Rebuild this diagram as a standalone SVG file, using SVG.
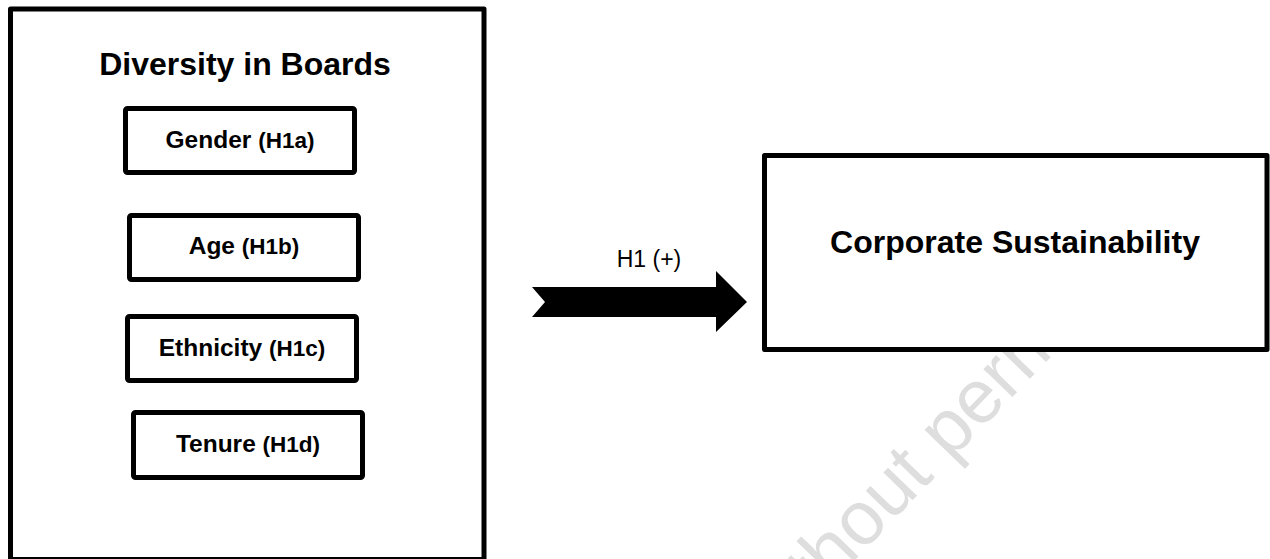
<svg xmlns="http://www.w3.org/2000/svg" width="1270" height="559" viewBox="0 0 1270 559">
<style>
  .box { fill: #ffffff; stroke: #000000; stroke-width: 5; stroke-linejoin: round; }
  .title { font-family: "Liberation Sans", Arial, sans-serif; font-weight: bold; font-size: 32px; fill: #000; text-anchor: middle; }
  .item { font-family: "Liberation Sans", Arial, sans-serif; font-weight: bold; font-size: 24.5px; fill: #000; text-anchor: middle; }
  .small { font-size: 22.5px; }
  .lbl { font-family: "Liberation Sans", Arial, sans-serif; font-size: 23px; fill: #000; text-anchor: middle; }
  .wm { font-family: "Liberation Sans", Arial, sans-serif; font-size: 76px; fill: #dedede; }
</style>
<rect x="0" y="0" width="1270" height="559" fill="#ffffff"/>
<g id="watermark">
  <text class="wm" transform="translate(768,650) rotate(-46)">without permission</text>
</g>
<g id="diversity-in-boards">
  <rect class="box" x="10.5" y="9" width="473.5" height="550.5" stroke-linejoin="miter"/>
  <text class="title" x="245" y="75">Diversity in Boards</text>
</g>
<g id="gender">
  <rect class="box" x="125.5" y="108.5" width="229" height="64" rx="2"/>
  <text class="item" x="240" y="148">Gender <tspan class="small">(H1a)</tspan></text>
</g>
<g id="age">
  <rect class="box" x="129.5" y="215.5" width="229" height="64" rx="2"/>
  <text class="item" x="244" y="254">Age <tspan class="small">(H1b)</tspan></text>
</g>
<g id="ethnicity">
  <rect class="box" x="127.5" y="316.5" width="229" height="64" rx="2"/>
  <text class="item" x="242" y="356">Ethnicity <tspan class="small">(H1c)</tspan></text>
</g>
<g id="tenure">
  <rect class="box" x="133.5" y="412.5" width="229" height="65" rx="2"/>
  <text class="item" x="248" y="452">Tenure <tspan class="small">(H1d)</tspan></text>
</g>
<g id="corporate-sustainability">
  <rect class="box" x="764.5" y="155.5" width="502.5" height="194" stroke-linejoin="miter"/>
  <text class="title" x="1015" y="253">Corporate Sustainability</text>
</g>
<g id="connectors">
  <polygon points="532,287 716,287 716,271 747,302 716,332 716,317 532,317 545,302" fill="#000000"/>
  <text class="lbl" x="649" y="267">H1 (+)</text>
</g>
</svg>
